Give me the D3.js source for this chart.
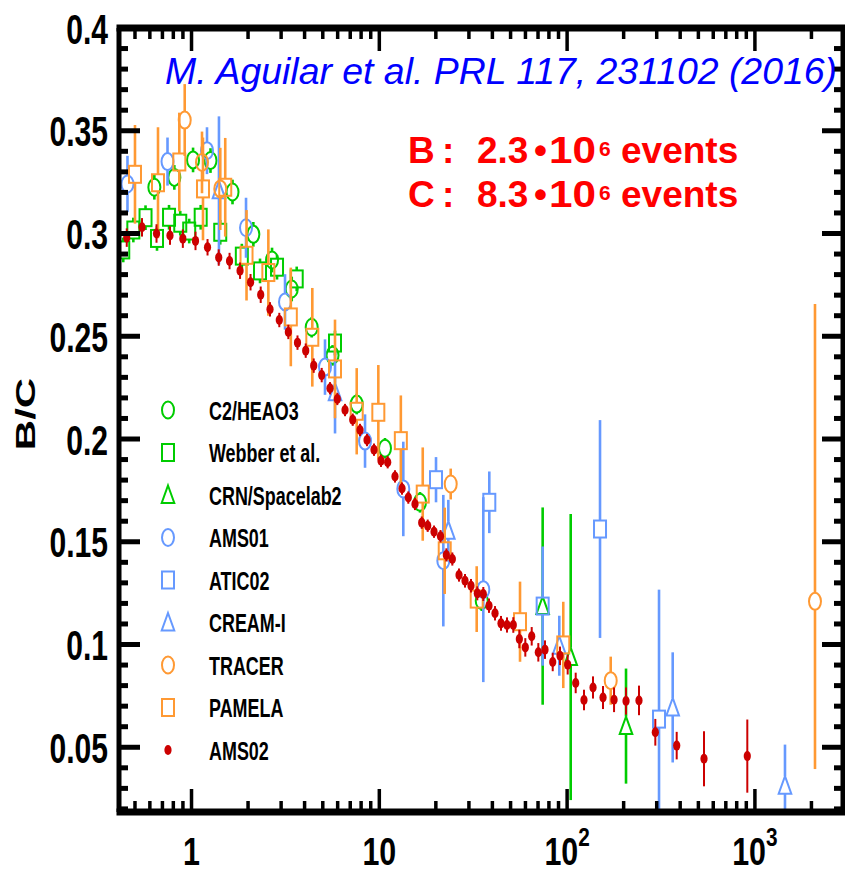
<!DOCTYPE html>
<html>
<head>
<meta charset="utf-8">
<script src="https://cdn.jsdelivr.net/npm/d3@7"></script>
<style>
  html, body { margin: 0; padding: 0; background: #fff; }
  svg { display: block; }
</style>
</head>
<body>
<svg id="chart" width="845" height="874"></svg>
<script>
// Boron-to-carbon flux ratio versus kinetic energy per nucleon (GeV/n).
// Each row: [energy, B/C, error] or [energy, B/C, lower error, upper error].

const heao3 = [
  [0.634, 0.3225, 0.006], [0.810, 0.3273, 0.006], [1.019, 0.3358, 0.006],
  [1.262, 0.3355, 0.006], [1.653, 0.3202, 0.006], [2.134, 0.2996, 0.006],
  [2.684, 0.2871, 0.006], [3.417, 0.2730, 0.006], [4.365, 0.2544, 0.005],
  [5.635, 0.2407, 0.005], [7.58, 0.2170, 0.005], [10.72, 0.1955, 0.005],
  [16.47, 0.1692, 0.005], [35.10, 0.1213, 0.005]
];

const webber = [
  [0.433, 0.2920, 0.006], [0.490, 0.3017, 0.006], [0.569, 0.3077, 0.006],
  [0.655, 0.2976, 0.006], [0.759, 0.3079, 0.006], [0.871, 0.3050, 0.006],
  [0.972, 0.3012, 0.006], [1.119, 0.3079, 0.006], [1.422, 0.3006, 0.006],
  [1.853, 0.2890, 0.006], [2.316, 0.2818, 0.006], [2.853, 0.2836, 0.006],
  [3.632, 0.2779, 0.006], [5.808, 0.2467, 0.006]
];

const crn = [
  [74.1, 0.1187, 0.048], [104.5, 0.0939, 0.0696], [205.9, 0.0603, 0.028]
];

const ams01 = [
  [0.456, 0.3241, 0.0137], [0.745, 0.3350, 0.0117], [1.209, 0.3403, 0.0114],
  [1.951, 0.3028, 0.0146], [3.147, 0.2667, 0.0135], [5.138, 0.2350, 0.0135],
  [8.394, 0.1990, 0.0130], [13.42, 0.1757, 0.023], [21.92, 0.1408, 0.032],
  [35.79, 0.1267, 0.045]
];

const atic02 = [
  [20.04, 0.1802, 0.011], [38.52, 0.1692, 0.015], [74.1, 0.1187, 0.029],
  [149.7, 0.1562, 0.053], [308.6, 0.0637, 0.063]
];

const creamI = [
  [1.40, 0.3210, 0.036], [5.81, 0.2227, 0.020], [23.31, 0.1554, 0.015],
  [90.87, 0.0994, 0.0146], [365.0, 0.0694, 0.0268], [1446, 0.0313, 0.020]
];

const tracer = [
  [0.920, 0.3552, 0.0175], [1.137, 0.3346, 0.015], [1.423, 0.3217, 0.020],
  [24.0, 0.1781, 0.0075], [170.7, 0.0824, 0.0117], [2089, 0.1210, 0.0816, 0.1447]
];

const pamela = [
  [0.500, 0.3288, 0.024], [0.663, 0.3247, 0.027], [0.861, 0.3348, 0.024],
  [1.151, 0.3217, 0.025], [1.512, 0.3225, 0.024], [1.963, 0.2894, 0.022],
  [2.565, 0.2810, 0.021], [3.379, 0.2594, 0.024], [4.398, 0.2495, 0.024],
  [5.808, 0.2341, 0.024], [7.58, 0.2135, 0.021], [9.88, 0.2130, 0.023],
  [13.02, 0.1992, 0.022], [17.03, 0.1732, 0.0227], [22.30, 0.1456, 0.021],
  [33.0, 0.1221, 0.016], [56.13, 0.1111, 0.0195], [95.4, 0.0998, 0.021]
];

const ams02 = [
  [0.452, 0.2980, 0.0045], [0.545, 0.3030, 0.0045], [0.651, 0.3000, 0.0045],
  [0.768, 0.2990, 0.0045], [0.899, 0.2975, 0.0045], [1.050, 0.2964, 0.0045],
  [1.217, 0.2933, 0.004], [1.396, 0.2883, 0.004], [1.594, 0.2866, 0.004],
  [1.813, 0.2819, 0.004], [2.062, 0.2763, 0.004], [2.336, 0.2702, 0.004],
  [2.618, 0.2631, 0.0035], [2.934, 0.2579, 0.0035], [3.277, 0.2521, 0.0035],
  [3.667, 0.2469, 0.0035], [4.056, 0.2430, 0.0035], [4.474, 0.2357, 0.0035],
  [4.935, 0.2311, 0.0035], [5.464, 0.2247, 0.003], [5.975, 0.2195, 0.003],
  [6.568, 0.2141, 0.003], [7.218, 0.2094, 0.003], [7.893, 0.2044, 0.003],
  [8.602, 0.1995, 0.003], [9.37, 0.1948, 0.003], [10.21, 0.1894, 0.003],
  [11.08, 0.1887, 0.003], [12.12, 0.1818, 0.003], [13.21, 0.1759, 0.003],
  [14.27, 0.1715, 0.003], [15.49, 0.1684, 0.003], [16.82, 0.1593, 0.003],
  [18.10, 0.1578, 0.003], [19.56, 0.1549, 0.003], [21.18, 0.1527, 0.003],
  [22.75, 0.1436, 0.0032], [24.48, 0.1416, 0.0032], [26.57, 0.1338, 0.0032],
  [28.60, 0.1310, 0.0033], [30.78, 0.1286, 0.0033], [33.25, 0.1249, 0.0034],
  [35.79, 0.1246, 0.0034], [38.38, 0.1189, 0.0035], [41.32, 0.1152, 0.0035],
  [44.46, 0.1103, 0.0036], [47.86, 0.1095, 0.0037], [51.70, 0.1095, 0.0038],
  [55.66, 0.1027, 0.0045], [59.90, 0.0986, 0.0045], [64.79, 0.1040, 0.0045],
  [70.26, 0.0962, 0.0045], [76.25, 0.0975, 0.0045], [83.82, 0.0915, 0.0045],
  [91.66, 0.0945, 0.0045], [100.7, 0.0902, 0.0048], [111.1, 0.0813, 0.005],
  [123.0, 0.0730, 0.005], [137.4, 0.0791, 0.0054], [155.3, 0.0742, 0.0056],
  [177.8, 0.0731, 0.006], [205.9, 0.0725, 0.0066], [241.4, 0.0728, 0.0072],
  [294.9, 0.0573, 0.0065], [383.3, 0.0508, 0.0067], [535.8, 0.0444, 0.0134],
  [911, 0.0457, 0.0178]
];

const seriesNames = ["C2/HEAO3", "Webber et al.", "CRN/Spacelab2", "AMS01", "ATIC02",
                     "CREAM-I", "TRACER", "PAMELA", "AMS02"];
const yTickValues = [0.05, 0.1, 0.15, 0.2, 0.25, 0.3, 0.35, 0.4];
const yTickLabels = ["0.05", "0.1", "0.15", "0.2", "0.25", "0.3", "0.35", "0.4"];
const xTickValues = [1, 10, 100, 1000];
const xTickLabels = [["1", ""], ["10", ""], ["10", "2"], ["10", "3"]];
const citation = "M. Aguilar et al. PRL 117, 231102 (2016)";
const eventLines = [["B", "2.3"], ["C", "8.3"]];

// ---------------------------------------------------------------------------
const GREEN = "#00cc00", BLUE = "#6699ff", ORANGE = "#ff9933", RED = "#cc0000";
const series = [
  { data: heao3,  color: GREEN,  shape: "circle" },
  { data: webber, color: GREEN,  shape: "square" },
  { data: crn,    color: GREEN,  shape: "triangle" },
  { data: ams01,  color: BLUE,   shape: "circle" },
  { data: atic02, color: BLUE,   shape: "square" },
  { data: creamI, color: BLUE,   shape: "triangle" },
  { data: tracer, color: ORANGE, shape: "circle" },
  { data: pamela, color: ORANGE, shape: "square" },
  { data: ams02,  color: RED,    shape: "dot" }
].map((s, i) => ({ ...s, name: seriesNames[i] }));

const X0 = 119, X1 = 843, Y0 = 28, Y1 = 812;
const x = d3.scaleLog().domain([0.411, 2945]).range([X0, X1]);
const y = d3.scaleLinear().domain([0.0185, 0.4]).range([Y1, Y0]);

const svg = d3.select("#chart");
const FONT = "'Liberation Sans', Arial, Helvetica, sans-serif";

svg.append("defs").append("clipPath").attr("id", "plot-clip")
  .append("rect").attr("x", X0).attr("y", Y0).attr("width", X1 - X0).attr("height", Y1 - Y0);

// marker half-sizes (markers are slightly taller than wide)
const RX = 6, RY = 8.5;
const gapAbove = { circle: RY, square: RY, triangle: 9.5, dot: 0 };
const gapBelow = { circle: RY, square: RY, triangle: 8, dot: 0 };

function drawMarker(g, shape, color, cx, cy) {
  if (shape === "circle") {
    g.append("ellipse").attr("cx", cx).attr("cy", cy).attr("rx", RX).attr("ry", RY)
      .attr("fill", "none").attr("stroke", color).attr("stroke-width", 2);
  } else if (shape === "square") {
    g.append("rect").attr("x", cx - RX).attr("y", cy - RY).attr("width", 2 * RX).attr("height", 2 * RY)
      .attr("fill", "none").attr("stroke", color).attr("stroke-width", 2);
  } else if (shape === "triangle") {
    g.append("path").attr("d", `M${cx},${cy - 9.5}L${cx + 6.3},${cy + 8}L${cx - 6.3},${cy + 8}Z`)
      .attr("fill", "none").attr("stroke", color).attr("stroke-width", 2);
  } else {
    g.append("ellipse").attr("cx", cx).attr("cy", cy).attr("rx", 3.6).attr("ry", 5)
      .attr("fill", color);
  }
}

const plot = svg.append("g").attr("clip-path", "url(#plot-clip)");
series.forEach(s => {
  const g = plot.append("g");
  s.data.forEach(row => {
    const [e, v, lo, hiRaw] = row;
    const hi = hiRaw === undefined ? lo : hiRaw;
    const cx = x(e), cy = y(v);
    const yTop = y(v + hi), yBot = y(v - lo);
    const bw = s.shape === "dot" ? 2 : 2.6;
    if (cy - gapAbove[s.shape] > yTop) {
      g.append("line").attr("x1", cx).attr("x2", cx)
        .attr("y1", yTop).attr("y2", cy - gapAbove[s.shape])
        .attr("stroke", s.color).attr("stroke-width", bw);
    }
    if (cy + gapBelow[s.shape] < yBot) {
      g.append("line").attr("x1", cx).attr("x2", cx)
        .attr("y1", cy + gapBelow[s.shape]).attr("y2", yBot)
        .attr("stroke", s.color).attr("stroke-width", bw);
    }
    drawMarker(g, s.shape, s.color, cx, cy);
  });
});

// condensed bold label helper
function label(parent, px, py, str, size, sx, anchor, fill) {
  return parent.append("text")
    .attr("transform", `translate(${px},${py}) scale(${sx},1)`)
    .attr("font-family", FONT).attr("font-weight", "bold")
    .attr("font-size", size).attr("text-anchor", anchor || "start")
    .attr("fill", fill || "#000").text(str);
}

// legend
const legend = svg.append("g");
series.forEach((s, i) => {
  const ly = 410 + i * 42.5;
  drawMarker(legend, s.shape, s.color, 168, ly);
  label(legend, 209, ly + 9.5, s.name, 26, 0.69, "start");
});

// frame ticks
const axes = svg.append("g").attr("stroke", "#000");
d3.range(2, 40).map(k => k / 100).forEach(v => {
  const major = yTickValues.some(t => Math.abs(t - v) < 1e-9);
  const len = major ? 21 : 9;
  axes.append("line").attr("x1", X0).attr("x2", X0 + len).attr("y1", y(v)).attr("y2", y(v)).attr("stroke-width", 5);
  axes.append("line").attr("x1", X1).attr("x2", X1 - len).attr("y1", y(v)).attr("y2", y(v)).attr("stroke-width", 5);
});
const xTicksAll = [];
[0.1, 1, 10, 100, 1000].forEach(d => { for (let k = 1; k <= 9; k++) xTicksAll.push(k * d); });
xTicksAll.filter(e => e > 0.411 && e < 2945).forEach(e => {
  const major = xTickValues.includes(e);
  const len = major ? 23 : 11;
  axes.append("line").attr("x1", x(e)).attr("x2", x(e)).attr("y1", Y0).attr("y2", Y0 + len).attr("stroke-width", 3.5);
  axes.append("line").attr("x1", x(e)).attr("x2", x(e)).attr("y1", Y1).attr("y2", Y1 - len).attr("stroke-width", 3.5);
});

// frame
axes.append("line").attr("x1", X0 - 2.5).attr("x2", X1 + 2.5).attr("y1", Y0).attr("y2", Y0).attr("stroke-width", 7);
axes.append("line").attr("x1", X0 - 2.5).attr("x2", X1 + 2.5).attr("y1", Y1).attr("y2", Y1).attr("stroke-width", 7);
axes.append("line").attr("x1", X0).attr("x2", X0).attr("y1", Y0).attr("y2", Y1).attr("stroke-width", 5);
axes.append("line").attr("x1", X1).attr("x2", X1).attr("y1", Y0).attr("y2", Y1).attr("stroke-width", 5);

// y tick labels
yTickValues.forEach((v, i) => label(svg, 108, y(v) + 15.5, yTickLabels[i], 43, 0.7, "end"));

// x tick labels
xTickValues.forEach((e, i) => {
  const [base, sup] = xTickLabels[i];
  const t = svg.append("text")
    .attr("transform", `translate(${x(e)},865) scale(0.8,1)`)
    .attr("font-family", FONT).attr("font-weight", "bold")
    .attr("font-size", 38).attr("text-anchor", "middle");
  t.append("tspan").text(base);
  if (sup) t.append("tspan").attr("font-size", 26).attr("dy", -19).text(sup);
});

// y axis title
svg.append("text")
  .attr("transform", "translate(35,414) scale(0.67,1) rotate(-90)")
  .attr("font-family", FONT).attr("font-weight", "bold")
  .attr("font-size", 42).attr("text-anchor", "middle").text("B/C");

// citation
svg.append("text").attr("x", 165).attr("y", 84)
  .attr("font-family", FONT).attr("font-style", "italic")
  .attr("font-size", 36.5).attr("fill", "#0000ff")
  .attr("textLength", 672).attr("lengthAdjust", "spacingAndGlyphs")
  .text(citation);

// event counts
eventLines.forEach(([el, n], i) => {
  const by = 163.3 + i * 43.2;
  const g = svg.append("g").attr("font-family", FONT).attr("font-weight", "bold")
    .attr("fill", "#ff0000").attr("font-size", 37);
  g.append("text").attr("x", 408).attr("y", by).text(el);
  g.append("text").attr("x", 442).attr("y", by).text(":");
  g.append("text").attr("x", 477).attr("y", by).text(n);
  g.append("text").attr("x", 534).attr("y", by).text("\u2022");
  g.append("text").attr("x", 549).attr("y", by)
    .attr("textLength", 47).attr("lengthAdjust", "spacingAndGlyphs").text("10");
  g.append("text").attr("x", 599).attr("y", by - 7).attr("font-size", 21).text("6");
  g.append("text").attr("x", 621).attr("y", by).text("events");
});
</script>
</body>
</html>
